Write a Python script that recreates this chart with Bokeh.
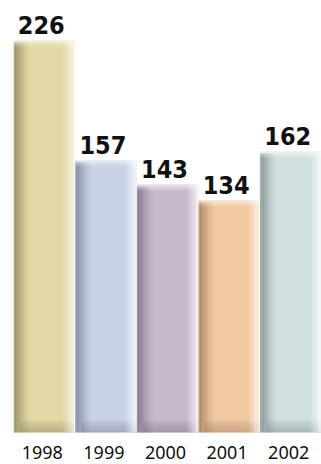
import numpy as np
from bokeh.plotting import figure
from bokeh.models import Range1d, ColumnDataSource
from bokeh.core.properties import value
from bokeh.embed import file_html
from bokeh.resources import INLINE

years = ["1998", "1999", "2000", "2001", "2002"]
values = [226, 157, 143, 134, 162]
colors = ["#E3D8A5", "#C9D1E7", "#C7B9CC", "#F2C9A2", "#D0E0DF"]
dark_colors = ["#7E7852", "#6E7488", "#6F6475", "#947258", "#6F7E7D"]

x = np.arange(len(years), dtype=float)

p = figure(width=321, height=464, output_backend="svg", toolbar_location=None,
           x_range=Range1d(-0.5, 4.5), y_range=Range1d(-18.4, 249),
           min_border_left=13, min_border_right=0, min_border_top=0, min_border_bottom=0)
p.axis.visible = False
p.grid.visible = False
p.outline_line_color = None
p.background_fill_color = "white"

p.vbar(x=x, top=values, width=1.0, bottom=0, fill_color=colors, line_color=None)

# bottom dark band
n_b = 8
hb = 0.9
xs, bots, tops, cols, alphas = [], [], [], [], []
for i in range(len(years)):
    for k in range(n_b):
        xs.append(x[i] + 0.05)
        bots.append(k * hb)
        tops.append((k + 1) * hb)
        cols.append(dark_colors[i])
        alphas.append(0.4 * (1 - k / n_b) ** 0.8)
p.vbar(source=ColumnDataSource(dict(x=xs, b=bots, t=tops, c=cols, a=alphas)),
       x="x", top="t", bottom="b", width=0.9, fill_color="c", fill_alpha="a", line_color=None)

# left dark shading
n_left = 12
wl = 0.022
xs, tops, cols, alphas = [], [], [], []
for i in range(len(years)):
    for k in range(n_left):
        xs.append(x[i] - 0.5 + (k + 0.5) * wl)
        tops.append(values[i] - 1.0)
        cols.append(dark_colors[i])
        a = 0.8 * (1 - k / n_left) ** 1.4
        if k == 0:
            a *= 0.6
        alphas.append(a)
p.vbar(source=ColumnDataSource(dict(x=xs, top=tops, c=cols, a=alphas)),
       x="x", top="top", bottom=0, width=wl, fill_color="c", fill_alpha="a", line_color=None)

# right light shading
n_right = 10
wr = 0.02
xs, tops, alphas = [], [], []
for i in range(len(years)):
    for k in range(n_right):
        xs.append(x[i] + 0.5 - (k + 0.5) * wr)
        tops.append(values[i])
        alphas.append(0.85 * (1 - k / n_right) ** 1.2)
p.vbar(source=ColumnDataSource(dict(x=xs, top=tops, a=alphas)),
       x="x", top="top", bottom=0, width=wr, fill_color="white", fill_alpha="a", line_color=None)

# top soft fade
n_t = 4
ht = 0.9
xs, bots, tops, alphas = [], [], [], []
for i in range(len(years)):
    for k in range(n_t):
        xs.append(x[i])
        tops.append(values[i] - k * ht)
        bots.append(values[i] - (k + 1) * ht)
        alphas.append(0.55 * (1 - k / n_t))
p.vbar(source=ColumnDataSource(dict(x=xs, b=bots, t=tops, a=alphas)),
       x="x", top="t", bottom="b", width=1.0, fill_color="white", fill_alpha="a", line_color=None)

# value labels
p.text(x=x, y=values, text=[str(v) for v in values], x_offset=-3, y_offset=-15,
       text_align="center", text_baseline="alphabetic",
       text_font=value("DejaVu Sans Condensed"),
       text_font_style="bold", text_font_size="25px", text_color="#111111")

# year labels
p.text(x=x, y=[0] * len(years), text=years, x_offset=-2, y_offset=20,
       text_align="center", text_baseline="alphabetic",
       text_font=value("Noto Sans"), text_font_size="18px", text_color="#111111")

open("out.html", "w").write(file_html(p, INLINE))
